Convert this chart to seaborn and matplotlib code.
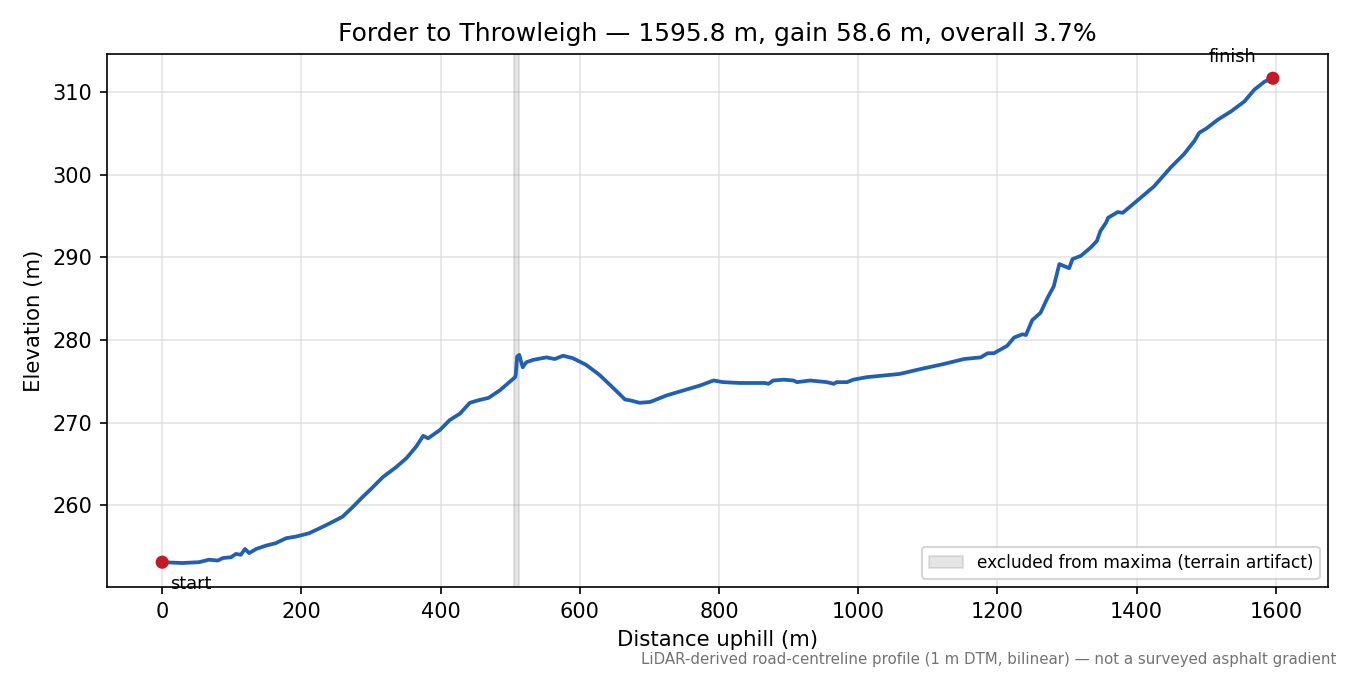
import matplotlib
matplotlib.use("Agg")
import matplotlib.pyplot as plt
import seaborn as sns
import pandas as pd

distance_m = [0, 29, 53, 67, 80, 87, 99, 106, 113, 119, 125, 135, 149, 163, 178, 192, 211, 231, 243, 259,
              274, 288, 298, 317, 336, 351, 365, 375, 382, 399, 413, 428, 442, 454, 469, 485, 507, 508, 510,
              513, 515, 518, 523, 533, 552, 564, 576, 590, 609, 628, 648, 665, 672, 686, 701, 725, 749, 773,
              792, 806, 830, 866, 871, 878, 893, 907, 912, 931, 955, 965, 969, 984, 993, 1012, 1036, 1060,
              1085, 1123, 1152, 1176, 1186, 1195, 1214, 1224, 1236, 1241, 1250, 1262, 1272, 1281, 1289,
              1303, 1308, 1320, 1334, 1343, 1348, 1356, 1359, 1373, 1380, 1397, 1425, 1449, 1468, 1483,
              1490, 1500, 1517, 1536, 1555, 1569, 1584, 1595.8]
elevation_m = [253.1, 253.0, 253.1, 253.4, 253.3, 253.6, 253.7, 254.1, 254.0, 254.7, 254.2, 254.7, 255.1,
               255.4, 256.0, 256.2, 256.6, 257.4, 257.9, 258.6, 259.8, 261.0, 261.8, 263.4, 264.6, 265.7,
               267.1, 268.4, 268.1, 269.1, 270.3, 271.1, 272.4, 272.7, 273.0, 273.9, 275.5, 275.8, 278.0,
               278.2, 277.6, 276.7, 277.3, 277.6, 277.9, 277.7, 278.1, 277.8, 277.0, 275.8, 274.2, 272.8,
               272.7, 272.4, 272.5, 273.3, 273.9, 274.5, 275.1, 274.9, 274.8, 274.8, 274.7, 275.1, 275.2,
               275.1, 274.9, 275.1, 274.9, 274.7, 274.9, 274.9, 275.2, 275.5, 275.7, 275.9, 276.4, 277.1,
               277.7, 277.9, 278.4, 278.4, 279.3, 280.3, 280.7, 280.6, 282.4, 283.3, 285.1, 286.5, 289.2,
               288.7, 289.8, 290.2, 291.2, 292.0, 293.2, 294.2, 294.8, 295.5, 295.4, 296.6, 298.6, 300.9,
               302.5, 304.1, 305.1, 305.6, 306.7, 307.7, 308.9, 310.3, 311.3, 311.7]

artifact_span = [505, 512]
endpoint_labels = ["start", "finish"]

title = "Forder to Throwleigh \u2014 1595.8 m, gain 58.6 m, overall 3.7%"
caption = "LiDAR-derived road-centreline profile (1 m DTM, bilinear) \u2014 not a surveyed asphalt gradient"

df = pd.DataFrame({"distance": distance_m, "elevation": elevation_m})

fig, ax = plt.subplots(figsize=(9, 4.5), dpi=150)
fig.subplots_adjust(left=0.079, right=0.984, top=0.92, bottom=0.13)

ax.axvspan(artifact_span[0], artifact_span[1], color="grey", alpha=0.2,
           label="excluded from maxima (terrain artifact)")
sns.lineplot(data=df, x="distance", y="elevation", ax=ax, color="#1f5fb4", linewidth=1.8)

ends = df.iloc[[0, -1]]
sns.scatterplot(data=ends, x="distance", y="elevation", ax=ax, color="#c41a28", s=40,
                edgecolor="none", zorder=5)

ax.annotate(endpoint_labels[0], (ends.iloc[0]["distance"], ends.iloc[0]["elevation"]),
            xytext=(4, -6), textcoords="offset points", ha="left", va="top", fontsize=8.5)
ax.annotate(endpoint_labels[1], (ends.iloc[1]["distance"], ends.iloc[1]["elevation"]),
            xytext=(-8, 6), textcoords="offset points", ha="right", va="bottom", fontsize=8.5)

ax.grid(True, color="0.85", alpha=0.7, linewidth=0.8)
ax.set_axisbelow(True)
ax.set_title(title, fontsize=12)
ax.set_xlabel("Distance uphill (m)", fontsize=10.2)
ax.set_ylabel("Elevation (m)", fontsize=10.2)
ax.tick_params(labelsize=10)
ax.legend(loc="lower right", fontsize=8.2, framealpha=0.8)

fig.text(0.99, 0.012, caption, ha="right", va="bottom", fontsize=7.2, color="0.45")

fig.savefig("out.png", dpi=150)
